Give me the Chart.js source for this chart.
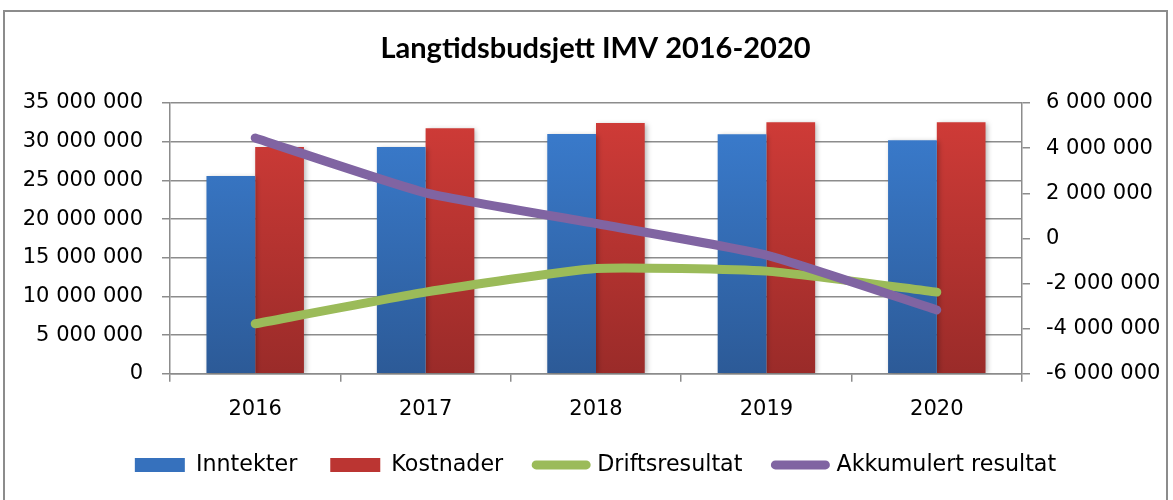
<!DOCTYPE html>
<html><head><meta charset="utf-8">
<script src="https://cdn.jsdelivr.net/npm/chart.js@4.4.1/dist/chart.umd.min.js"></script>
<style>
html,body{margin:0;padding:0;background:#fff;}
#wrap{position:relative;width:1173px;height:500px;overflow:hidden;}
#frame{position:absolute;left:3px;top:10px;width:1165px;height:530px;border:2px solid #8c8c8c;box-sizing:border-box;}
canvas{position:absolute;left:0;top:0;}
</style></head><body>
<div id="wrap"><div id="frame"></div><canvas id="c" width="1173" height="500"></canvas></div>
<script>
const categories = ['2016', '2017', '2018', '2019', '2020'];
const inntekter = [25550000, 29300000, 31000000, 30970000, 30200000];
const kostnader = [29300000, 31750000, 32400000, 32500000, 32500000];
const driftsresultat = [-3780000, -2380000, -1330000, -1450000, -2380000];
const akkumulert = [4450000, 2020000, 660000, -740000, -3170000];
const seriesNames = ['Inntekter', 'Kostnader', 'Driftsresultat', 'Akkumulert resultat'];
const titleText = 'Langtidsbudsjett IMV 2016-2020';

function fmt(v) {
  const s = String(Math.abs(Math.round(v))).replace(/\B(?=(\d{3})+(?!\d))/g, ' ');
  return (v < 0 ? '-' : '') + s;
}
function grad(ctx, top, bottom) {
  const chart = ctx.chart;
  const a = chart.chartArea;
  if (!a) return bottom;
  const g = chart.ctx.createLinearGradient(0, a.top, 0, a.bottom);
  g.addColorStop(0, top);
  g.addColorStop(1, bottom);
  return g;
}
const FONT = "'DejaVu Sans', sans-serif";
const TITLE_FONT = "Lato, 'DejaVu Sans', sans-serif";
const GRID = '#8c8c8c';

const barShadow = {
  id: 'barShadow',
  beforeDatasetDraw(chart, args) {
    if (args.meta.type !== 'bar') return;
    const c = chart.ctx;
    c.save();
    c.shadowColor = 'rgba(0,0,0,0.28)';
    c.shadowBlur = 5;
    c.shadowOffsetX = 2;
    c.shadowOffsetY = 1;
  },
  afterDatasetDraw(chart, args) {
    if (args.meta.type !== 'bar') return;
    chart.ctx.restore();
  }
};

new Chart(document.getElementById('c'), {
  type: 'bar',
  plugins: [barShadow],
  data: {
    labels: categories,
    datasets: [
      { label: seriesNames[0], data: inntekter, yAxisID: 'y', order: 2,
        backgroundColor: c => grad(c, '#3b7ed1', '#2c5a97'), legendColor: '#3671bd',
        categoryPercentage: 0.572, barPercentage: 1.0 },
      { label: seriesNames[1], data: kostnader, yAxisID: 'y', order: 2,
        backgroundColor: c => grad(c, '#d23c38', '#9a2b29'), legendColor: '#bb3532',
        categoryPercentage: 0.572, barPercentage: 1.0 },
      { type: 'line', label: seriesNames[2], data: driftsresultat, yAxisID: 'y1', order: 1,
        borderColor: '#9bbb59', backgroundColor: '#9bbb59', borderWidth: 9,
        borderCapStyle: 'round', borderJoinStyle: 'round', pointRadius: 0, tension: 0.15, fill: false },
      { type: 'line', label: seriesNames[3], data: akkumulert, yAxisID: 'y1', order: 0,
        borderColor: '#8064a2', backgroundColor: '#8064a2', borderWidth: 9,
        borderCapStyle: 'round', borderJoinStyle: 'round', pointRadius: 0, tension: 0.15, fill: false }
    ]
  },
  options: {
    responsive: false,
    animation: false,
    devicePixelRatio: 1,
    layout: { padding: { left: 18, right: 0, top: 0, bottom: 14 } },
    plugins: {
      tooltip: { enabled: false },
      title: {
        display: true, text: titleText, color: '#000',
        font: { family: TITLE_FONT, size: 29, weight: 'bold', lineHeight: 1.2 },
        padding: { top: 31, bottom: 37.2 }
      },
      legend: {
        position: 'bottom',
        labels: {
          color: '#000',
          font: { family: FONT, size: 22.2 },
          usePointStyle: true,
          pointStyleWidth: 50,
          boxHeight: 14,
          padding: 33,
          sort: (a, b) => a.datasetIndex - b.datasetIndex,
          generateLabels: chart => chart.data.datasets.map((ds, i) => {
            const isLine = ds.type === 'line';
            return {
              text: ds.label,
              datasetIndex: i,
              fillStyle: isLine ? ds.borderColor : ds.legendColor,
              strokeStyle: isLine ? ds.borderColor : ds.legendColor,
              lineWidth: isLine ? 9 : 0,
              lineCap: 'round',
              pointStyle: isLine ? 'line' : 'rect',
              fontColor: '#000',
              hidden: false
            };
          })
        }
      }
    },
    scales: {
      x: {
        offset: true,
        afterFit: s => { s.height = 47; },
        grid: { offset: true, drawOnChartArea: false, color: GRID, lineWidth: 1.5, tickLength: 8 },
        border: { color: GRID, width: 1.5 },
        ticks: { color: '#000', font: { family: FONT, size: 21 }, padding: 15, maxRotation: 0 }
      },
      y: {
        position: 'left', min: 0, max: 35000000,
        afterFit: s => { s.width = 152; },
        grid: { color: GRID, lineWidth: 1.5, tickLength: 8 },
        border: { color: GRID, width: 1.5 },
        ticks: { stepSize: 5000000, color: '#000', font: { family: FONT, size: 21 }, padding: 19, callback: v => fmt(v) }
      },
      y1: {
        position: 'right', min: -6000000, max: 6000000,
        afterFit: s => { s.width = 151; },
        grid: { drawOnChartArea: false, color: GRID, lineWidth: 1.5, tickLength: 8 },
        border: { color: GRID, width: 1.5 },
        ticks: { stepSize: 2000000, color: '#000', font: { family: FONT, size: 21 }, padding: 16, callback: v => fmt(v) }
      }
    }
  }
});
</script>
</body></html>
